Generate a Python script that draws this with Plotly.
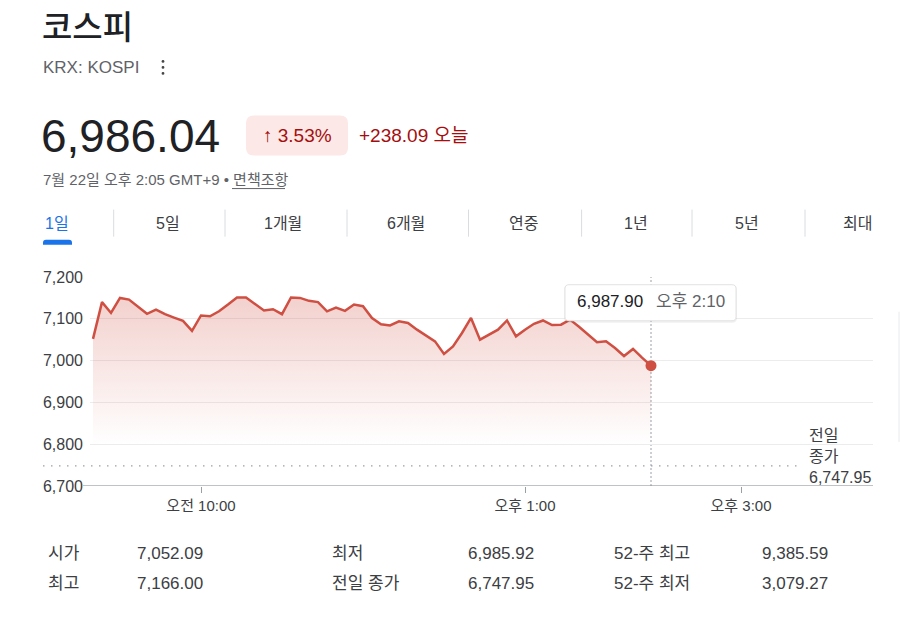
import pandas as pd
import plotly.graph_objects as go

# ---------------- data ----------------
times = pd.date_range("2025-07-22 09:00", "2025-07-22 14:10", freq="5min")
values = [7052.09, 7140, 7114, 7150, 7146, 7130, 7112, 7122, 7111, 7103,
          7095, 7071, 7108, 7106, 7118, 7134, 7151, 7151, 7135, 7120,
          7123, 7111, 7151, 7150, 7143, 7140, 7118, 7127, 7119, 7134,
          7130, 7102, 7087, 7084, 7094, 7090, 7074, 7059, 7046, 7016,
          7034, 7066, 7102, 7050, 7062, 7074, 7096, 7058, 7074, 7088,
          7096, 7085, 7086, 7098, 7081, 7062, 7044, 7046, 7030, 7011,
          7028, 7007, 6987.90]
prev_close = 6747.95
y_ticks = [6700, 6800, 6900, 7000, 7100, 7200]
x_tickvals = ["2025-07-22 10:00", "2025-07-22 13:00", "2025-07-22 15:00"]
x_ticktext = ["오전 10:00", "오후 1:00", "오후 3:00"]
x_range = ["2025-07-22 08:58:20", "2025-07-22 16:13:20"]

title = "코스피"
ticker = "KRX: KOSPI"
price = "6,986.04"
pct = "↑ 3.53%"
change = "+238.09 오늘"
stamp = "7월 22일 오후 2:05 GMT+9 • 면책조항"
tabs = ["1일", "5일", "1개월", "6개월", "연중", "1년", "5년", "최대"]
tooltip_val = "6,987.90"
tooltip_time = "오후 2:10"
stat_labels_1 = ["시가", "최저", "52-주 최고"]
stat_values_1 = ["7,052.09", "6,985.92", "9,385.59"]
stat_labels_2 = ["최고", "전일 종가", "52-주 최저"]
stat_values_2 = ["7,166.00", "6,747.95", "3,079.27"]

# ---------------- styling ----------------
FONT = "Liberation Sans, Arial, Noto Sans CJK KR, sans-serif"
RED = "#cf4f42"
DARK = "#202124"
GREY = "#5f6368"
MID = "#3c4043"

L, R, T, B = 90, 873, 277.3, 486


def px(x):
    return (x - L) / (R - L)


def py(y):
    return (B - y) / (B - T)


def P(x, y):
    return f"{px(x):.5f},{py(y):.5f}"


def rrect(x0, y0, x1, y1, r):
    return (f"M{P(x0 + r, y0)} L{P(x1 - r, y0)} Q{P(x1, y0)} {P(x1, y0 + r)} "
            f"L{P(x1, y1 - r)} Q{P(x1, y1)} {P(x1 - r, y1)} L{P(x0 + r, y1)} "
            f"Q{P(x0, y1)} {P(x0, y1 - r)} L{P(x0, y0 + r)} Q{P(x0, y0)} {P(x0 + r, y0)} Z")


fig = go.Figure()
fig.add_trace(go.Scatter(
    x=times, y=values, mode="lines",
    line=dict(color=RED, width=2.5),
    fill="tozeroy",
    fillgradient=dict(type="vertical",
                      colorscale=[[0, "rgba(207,79,66,0)"], [1, "rgba(207,79,66,0.26)"]],
                      start=6800, stop=7150),
    hoverinfo="skip",
))
fig.add_trace(go.Scatter(
    x=[times[-1]], y=[values[-1]], mode="markers",
    marker=dict(color=RED, size=11), hoverinfo="skip",
))

shapes = []
annotations = []


def text(x, y, s, size, color, anchor="left", family=FONT, weight=None):
    f = dict(size=size, color=color, family=family)
    if weight:
        f["weight"] = weight
    annotations.append(dict(x=px(x), y=py(y), xref="paper", yref="paper", text=s,
                            showarrow=False, xanchor=anchor, yanchor="middle", font=f))


# header
text(40, 28, title, 33, DARK, weight=500)
text(41, 68, ticker, 17, GREY)
for yy in (62, 68, 74):
    shapes.append(dict(type="circle", xref="paper", yref="paper",
                       x0=px(161.6), x1=px(164.4), y0=py(yy - 1.4), y1=py(yy + 1.4),
                       fillcolor="#444746", line=dict(width=0)))
text(39, 137, price, 46, DARK)
shapes.append(dict(type="path", xref="paper", yref="paper", path=rrect(246, 116, 348, 156, 8),
                   fillcolor="#fce8e6", line=dict(width=0)))
text(297, 136, pct, 19, "#a50e0e", anchor="center")
text(357, 136, change, 19, "#a50e0e")
text(41, 180, stamp, 15, GREY)
shapes.append(dict(type="line", xref="paper", yref="paper", x0=px(232), x1=px(285),
                   y0=py(189), y1=py(189), line=dict(color=GREY, width=1)))

# tabs
tab_x = [57, 168, 283, 406, 523, 636, 747, 857]
for i, (tx, t) in enumerate(zip(tab_x, tabs)):
    text(tx, 224, t, 16, "#1a73e8" if i == 0 else MID, anchor="center")
for sx in [113.7, 225, 347, 468.5, 581.6, 692, 805]:
    shapes.append(dict(type="line", xref="paper", yref="paper", x0=px(sx), x1=px(sx),
                       y0=py(210), y1=py(237), line=dict(color="#dadce0", width=1)))
shapes.append(dict(type="path", xref="paper", yref="paper",
                   path=(f"M{P(43, 245)} L{P(43, 243)} Q{P(43, 240)} {P(46, 240)} "
                         f"L{P(69, 240)} Q{P(72, 240)} {P(72, 243)} L{P(72, 245)} Z"),
                   fillcolor="#1a73e8", line=dict(width=0)))

# chart decorations
shapes.append(dict(type="line", xref="paper", yref="y", x0=px(43), x1=px(797),
                   y0=prev_close, y1=prev_close, layer="between",
                   line=dict(color="#9aa0a6", width=1.3, dash="1.5px,6.5px")))
shapes.append(dict(type="line", xref="x", yref="paper", x0=times[-1], x1=times[-1],
                   y0=0, y1=1, layer="between",
                   line=dict(color="#9aa0a6", width=1, dash="2px,2px")))
shapes.append(dict(type="line", xref="paper", yref="y", x0=px(83), x1=1,
                   y0=6700, y1=6700, line=dict(color="#80868b", width=1)))
annotations.append(dict(x=px(807), y=py(457), xref="paper", yref="paper",
                        text=f"전일<br>종가<br>{prev_close:,.2f}", showarrow=False,
                        xanchor="left", yanchor="middle", align="left",
                        font=dict(size=16, color=MID, family=FONT)))
shapes.append(dict(type="line", xref="paper", yref="paper", x0=px(899), x1=px(899),
                   y0=py(312), y1=py(442), line=dict(color="#e8eaed", width=1)))

# tooltip
shapes.append(dict(type="path", xref="paper", yref="paper", path=rrect(564, 285, 737, 323, 5),
                   fillcolor="rgba(0,0,0,0.06)", line=dict(width=0)))
shapes.append(dict(type="path", xref="paper", yref="paper", path=rrect(565, 285, 736, 321, 4),
                   fillcolor="white", line=dict(color="#e3e3e3", width=1)))
text(575, 302, tooltip_val, 17, DARK)
text(654, 302, tooltip_time, 17, GREY)

# stats
col_x = [46, 135, 330, 466, 612, 760]
for row_y, labs, vals in [(553, stat_labels_1, stat_values_1), (583, stat_labels_2, stat_values_2)]:
    for j in range(3):
        text(col_x[2 * j], row_y, labs[j], 17, MID)
        text(col_x[2 * j + 1], row_y, vals[j], 17, MID)

fig.update_layout(
    width=900, height=636,
    margin=dict(l=L, r=900 - R, t=T, b=636 - B, pad=0),
    paper_bgcolor="white", plot_bgcolor="white",
    showlegend=False, hovermode=False,
    font=dict(family=FONT, color=MID),
    shapes=shapes, annotations=annotations,
    xaxis=dict(type="date", range=x_range, tickvals=x_tickvals, ticktext=x_ticktext,
               showgrid=False, zeroline=False, showline=False,
               ticks="outside", ticklen=6, tickcolor="#9aa0a6",
               tickfont=dict(size=15, color=MID), automargin=False, fixedrange=True),
    yaxis=dict(range=[6700, 7200], tickvals=y_ticks, tickformat=",",
               showgrid=True, gridcolor="#ececec", gridwidth=1, zeroline=False,
               showline=False, ticks="", ticklabelstandoff=6,
               tickfont=dict(size=16, color=MID), automargin=False, fixedrange=True),
)

fig.write_html("out.html", config={"displayModeBar": False})
